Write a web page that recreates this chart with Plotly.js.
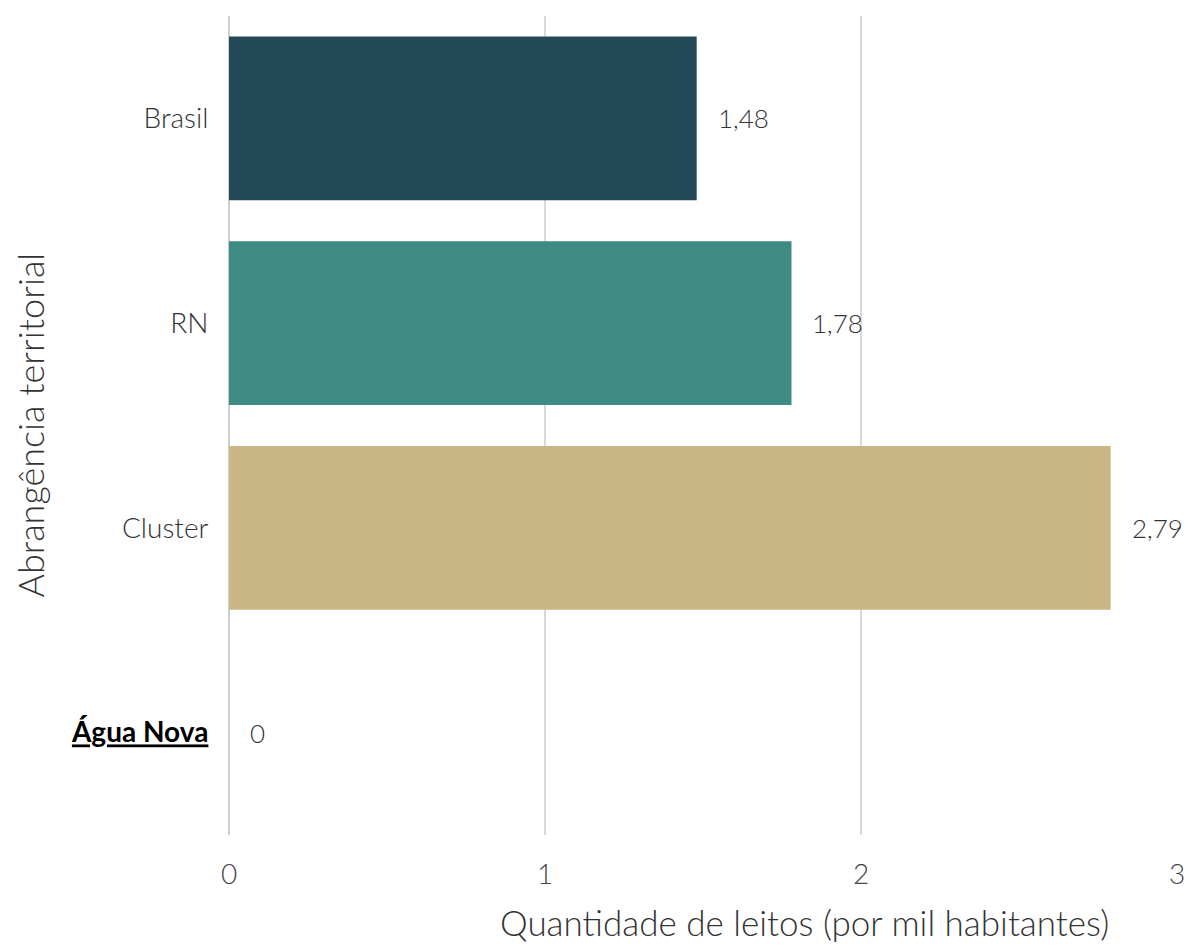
<!DOCTYPE html>
<html>
<head>
<meta charset="utf-8">
<script src="https://cdn.plot.ly/plotly-3.0.1.min.js"></script>
<style>html,body{margin:0;padding:0;background:#fff;}#chart{width:1188px;height:946px;}</style>
</head>
<body>
<div id="chart"></div>
<script>
const categories = ["Brasil", "RN", "Cluster", "Água Nova"];
const tickLabels = ["Brasil", "RN", "Cluster", "<span style=\"color:#000\"><b><u>Água Nova</u></b></span>"];
const values = [1.48, 1.78, 2.79, 0];
const barColors = ["#244958", "#3d8b82", "#cbb785", "#bdbdbd"];
const xTicks = [0, 1, 2, 3];
const xTitle = "Quantidade de leitos (por mil habitantes)";
const yTitle = "Abrangência territorial";

const fmt = v => String(v).replace('.', ',');

const trace = {
  type: 'bar',
  orientation: 'h',
  x: values,
  y: categories,
  marker: {color: barColors},
  hoverinfo: 'x+y',
  cliponaxis: false
};

const annotations = categories.map((c, i) => ({
  x: values[i], y: c, xref: 'x', yref: 'y',
  text: fmt(values[i]), showarrow: false,
  xanchor: 'left', yanchor: 'middle', xshift: 19,
  font: {family: 'Lato', weight: 300, size: 26, color: '#333'}
}));
annotations.push({
  x: 0.6066, y: 0, xref: 'paper', yref: 'paper',
  text: xTitle, showarrow: false,
  xanchor: 'center', yanchor: 'middle', yshift: -87,
  font: {family: 'Lato', weight: 300, size: 35, color: '#333'}
});
annotations.push({
  x: 0, y: 0.5, xref: 'paper', yref: 'paper',
  text: yTitle, showarrow: false, textangle: -90,
  xanchor: 'center', yanchor: 'middle', xshift: -200,
  font: {family: 'Lato', weight: 300, size: 36, color: '#333'}
});

const layout = {
  width: 1188, height: 946,
  margin: {l: 229, r: 11, t: 16, b: 111},
  paper_bgcolor: '#fff', plot_bgcolor: '#fff',
  showlegend: false,
  bargap: 0.2,
  font: {family: 'Lato', weight: 300, color: '#333'},
  xaxis: {
    range: [0, 3],
    tickvals: xTicks,
    ticktext: xTicks.map(String),
    showgrid: true, gridcolor: '#d9d9d9', gridwidth: 2,
    zeroline: true, zerolinecolor: '#cfcfcf', zerolinewidth: 2,
    showline: false,
    ticks: 'outside', ticklen: 14, tickcolor: 'rgba(0,0,0,0)',
    tickfont: {family: 'Lato', weight: 300, size: 28, color: '#444'},
    fixedrange: true
  },
  yaxis: {
    autorange: 'reversed',
    type: 'category',
    tickvals: categories,
    ticktext: tickLabels,
    showgrid: false, zeroline: false, showline: false,
    ticks: 'outside', ticklen: 14, tickcolor: 'rgba(0,0,0,0)',
    tickfont: {family: 'Lato', weight: 300, size: 28, color: '#333'},
    automargin: false
  },
  annotations: annotations
};

Plotly.newPlot('chart', [trace], layout, {displayModeBar: false, staticPlot: true});
</script>
</body>
</html>
